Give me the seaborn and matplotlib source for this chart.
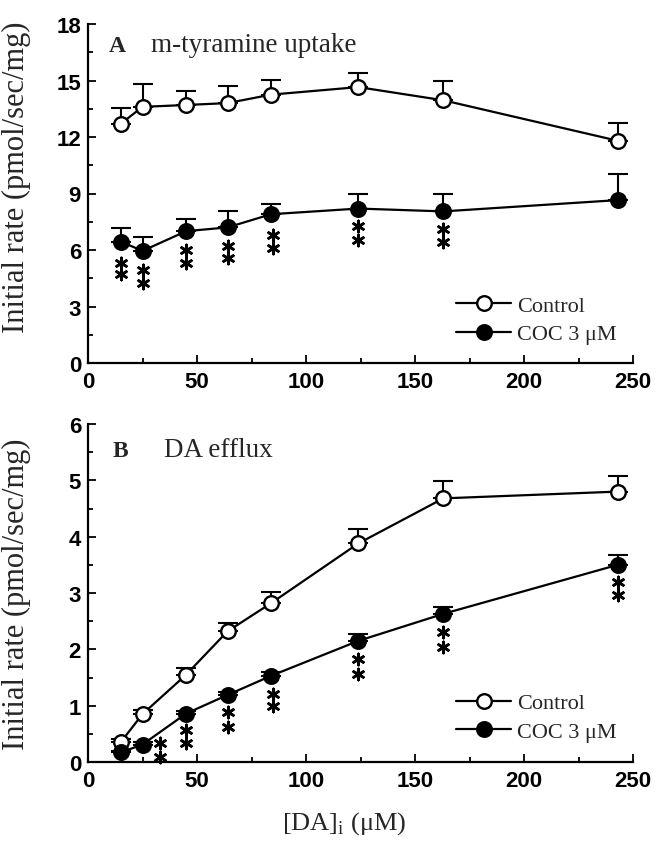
import numpy as np
import pandas as pd
import matplotlib
matplotlib.use("Agg")
import matplotlib.pyplot as plt
from matplotlib.ticker import MultipleLocator
from matplotlib.lines import Line2D
import seaborn as sns

# ---------------- data ----------------
conc = [15, 25, 45, 64, 84, 124, 163, 243]

a_ctrl = [12.7, 13.6, 13.7, 13.8, 14.25, 14.65, 13.95, 11.8]
a_ctrl_err = [0.85, 1.2, 0.75, 0.9, 0.8, 0.75, 1.05, 0.95]
a_coc = [6.45, 5.95, 7.0, 7.2, 7.9, 8.2, 8.05, 8.65]
a_coc_err = [0.7, 0.75, 0.65, 0.85, 0.55, 0.8, 0.95, 1.4]

b_ctrl = [0.35, 0.85, 1.55, 2.32, 2.82, 3.88, 4.68, 4.80]
b_ctrl_err = [0.05, 0.08, 0.12, 0.15, 0.2, 0.25, 0.3, 0.28]
b_coc = [0.17, 0.31, 0.86, 1.19, 1.53, 2.15, 2.63, 3.50]
b_coc_err = [0.03, 0.05, 0.05, 0.06, 0.06, 0.12, 0.13, 0.17]

# significance asterisks (two stacked per point)
a_star_x = [15, 25, 45, 64, 85, 124, 163]
a_star_y1 = [5.3, 4.95, 6.0, 6.2, 6.8, 7.25, 7.1]
a_star_y2 = [4.7, 4.25, 5.3, 5.6, 6.1, 6.55, 6.4]

b_star_x = [33, 45, 64, 85, 124, 163, 243]
b_star_y1 = [0.33, 0.56, 0.89, 1.21, 1.83, 2.30, 3.19]
b_star_y2 = [0.09, 0.33, 0.62, 0.99, 1.57, 2.05, 2.97]

labels = ["Control", "COC 3 \u03bcM"]

# ---------------- style ----------------
sns.set_style("ticks")
plt.rcParams["font.family"] = ["Liberation Sans", "DejaVu Sans"]
SERIF = ["Liberation Serif", "DejaVu Serif"]

fig = plt.figure(figsize=(6.58, 8.45), dpi=100)
W, H = 658, 845
def ax_rect(l, t, r, b):
    return [l / W, 1 - b / H, (r - l) / W, (b - t) / H]

axA = fig.add_axes(ax_rect(88, 25, 633, 364))
axB = fig.add_axes(ax_rect(88, 425, 633, 763))

MS = 10.5


def draw_panel(ax, ctrl, ctrl_err, coc, coc_err, sx, sy1, sy2, ymax, ymajor,
               yminor, ylab_y, leg_y):
    df = pd.DataFrame({
        "conc": conc * 2,
        "rate": ctrl + coc,
        "group": [labels[0]] * len(conc) + [labels[1]] * len(conc),
    })
    # error bars (upper only)
    ax.errorbar(conc, ctrl, yerr=[np.zeros(len(conc)), ctrl_err], fmt="none",
                ecolor="black", elinewidth=1.5, capsize=7, capthick=1.5, zorder=2)
    ax.errorbar(conc, coc, yerr=[np.zeros(len(conc)), coc_err], fmt="none",
                ecolor="black", elinewidth=1.5, capsize=7, capthick=1.5, zorder=2)
    d0 = df[df.group == labels[0]]
    d1 = df[df.group == labels[1]]
    sns.lineplot(data=d0, x="conc", y="rate", ax=ax, color="black", lw=1.6,
                 marker="o", markersize=MS, markerfacecolor="white",
                 markeredgecolor="black", markeredgewidth=1.7, zorder=3)
    sns.lineplot(data=d1, x="conc", y="rate", ax=ax, color="black", lw=1.6,
                 marker="o", markersize=MS, markerfacecolor="black",
                 markeredgecolor="black", markeredgewidth=1.7, zorder=3)
    ax.scatter(sx + sx, sy1 + sy2, marker=(6, 2, 0), s=65, color="black",
               linewidths=1.9, zorder=4, clip_on=False)

    ax.set_xlim(0, 250)
    ax.set_ylim(0, ymax)
    ax.xaxis.set_major_locator(MultipleLocator(50))
    ax.xaxis.set_minor_locator(MultipleLocator(25))
    ax.yaxis.set_major_locator(MultipleLocator(ymajor))
    ax.yaxis.set_minor_locator(MultipleLocator(yminor))
    ax.tick_params(which="both", direction="in", width=1.3, colors="black")
    ax.tick_params(which="major", length=6, labelsize=16)
    ax.tick_params(axis="x", which="major", pad=6)
    ax.tick_params(axis="y", which="major", pad=5)
    ax.tick_params(which="minor", length=3.5)
    for lab in ax.get_xticklabels() + ax.get_yticklabels():
        lab.set_fontweight("bold")
    sns.despine(ax=ax)
    for s in ["left", "bottom"]:
        ax.spines[s].set_linewidth(1.6)
        ax.spines[s].set_color("black")
    ax.set_ylabel("Initial rate (pmol/sec/mg)", fontsize=22, family=SERIF)
    ax.set_xlabel("")
    ax.yaxis.set_label_coords(-0.105, ylab_y)

    handles = [
        Line2D([], [], color="black", lw=1.6, marker="o", markersize=MS,
               markerfacecolor="white", markeredgecolor="black", markeredgewidth=1.7),
        Line2D([], [], color="black", lw=1.6, marker="o", markersize=MS,
               markerfacecolor="black", markeredgecolor="black", markeredgewidth=1.7),
    ]
    ax.legend(handles, labels, loc="lower left", bbox_to_anchor=(0.675, leg_y),
              frameon=False, prop={"family": SERIF, "size": 16},
              handlelength=2.5, handletextpad=0.25, labelspacing=0.35,
              borderpad=0, borderaxespad=0)


draw_panel(axA, a_ctrl, a_ctrl_err, a_coc, a_coc_err,
           a_star_x, a_star_y1, a_star_y2, 18, 3, 1.5, 0.55, 0.055)
draw_panel(axB, b_ctrl, b_ctrl_err, b_coc, b_coc_err,
           b_star_x, b_star_y1, b_star_y2, 6, 1, 0.5, 0.50, 0.06)

axA.text(0.038, 0.92, "A", transform=axA.transAxes, fontsize=17,
         fontweight="bold", family=SERIF, va="baseline")
axA.text(0.115, 0.92, "m-tyramine uptake", transform=axA.transAxes,
         fontsize=19.5, family=SERIF, va="baseline")
axB.text(0.046, 0.905, "B", transform=axB.transAxes, fontsize=17,
         fontweight="bold", family=SERIF, va="baseline")
axB.text(0.140, 0.905, "DA efflux", transform=axB.transAxes,
         fontsize=19.5, family=SERIF, va="baseline")

axB.set_xlabel("[DA]$_\\mathregular{i}$ (\u03bcM)", fontsize=19, family=SERIF)
axB.xaxis.set_label_coords(0.47, -0.14)

fig.savefig("out.png", dpi=100)
